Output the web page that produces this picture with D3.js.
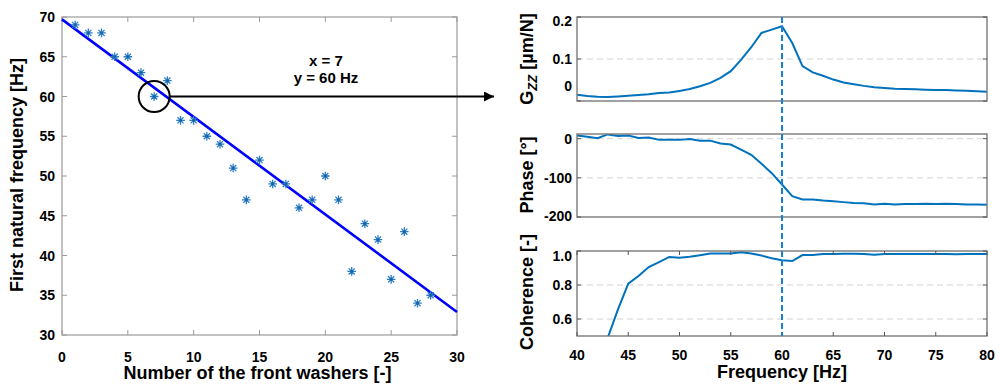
<!DOCTYPE html>
<html lang="en">
<head>
<meta charset="UTF-8">
<title>Front washers vs first natural frequency</title>
<script src="https://d3js.org/d3.v7.min.js"></script>
<style>
  body { margin: 0; background: #fff; }
  svg { display: block; font-family: Arial, "Liberation Sans", sans-serif; font-weight: bold; }
</style>
</head>
<body>
<svg id="chart" width="1000" height="385"></svg>
<script>
// left plot: measured first natural frequency per number of front washers
const washers = [1, 2, 3, 4, 5, 6, 7, 8, 9, 10, 11, 12, 13, 14, 15, 16, 17, 18, 19, 20, 21, 22, 23, 24, 25, 26, 27, 28];
const firstFreq = [69, 68, 68, 65, 65, 63, 60, 62, 57, 57, 55, 54, 51, 47, 52, 49, 49, 46, 47, 50, 47, 38, 44, 42, 37, 43, 34, 35];
const fitX = [0, 30];
const fitY = [69.7, 32.9];
const markedWasher = 7;
const markedFreq = 60;
const washerTicks = [0, 5, 10, 15, 20, 25, 30];
const freqTicksLeft = [30, 35, 40, 45, 50, 55, 60, 65, 70];

// right plots: FRF at x = 7 washers
const freqHz = [40, 41, 42, 43, 44, 45, 46, 47, 48, 49, 50, 51, 52, 53, 54, 55, 56, 57, 58, 59, 60,
  61, 62, 63, 64, 65, 66, 67, 68, 69, 70, 71, 72, 73, 74, 75, 76, 77, 78, 79, 80];
const gzz = [0.015, 0.012, 0.010, 0.0095, 0.011, 0.0125, 0.014, 0.016, 0.019, 0.020, 0.024,
  0.0285, 0.035, 0.043, 0.055, 0.071, 0.098, 0.128, 0.162, 0.170, 0.178,
  0.138, 0.083, 0.068, 0.060, 0.051, 0.044, 0.040, 0.036, 0.033, 0.031,
  0.029, 0.0285, 0.028, 0.027, 0.026, 0.026, 0.025, 0.0245, 0.023, 0.022];
const phase = [8, 5, 1, 11, 7, 8, 2, 3, -3, -3, -3,
  -1, -5, -5, -12, -15, -28, -41, -64, -88, -117,
  -147, -155, -155, -158, -160, -162, -164, -165, -168, -166,
  -168, -167, -167, -166, -167, -166, -167, -168, -168, -169];
const coherence = [null, null, null, 0.49, 0.657, 0.808, 0.853, 0.906, 0.935, 0.965, 0.961,
  0.966, 0.975, 0.985, 0.985, 0.986, 0.992, 0.985, 0.973, 0.957, 0.945,
  0.941, 0.976, 0.976, 0.982, 0.983, 0.984, 0.984, 0.983, 0.978, 0.982,
  0.982, 0.982, 0.982, 0.982, 0.982, 0.982, 0.981, 0.982, 0.983, 0.983];
const freqTicks = [40, 45, 50, 55, 60, 65, 70, 75, 80];
const peakHz = 60;

const svg = d3.select("#chart");
const blue = "#0072BD";

svg.append("defs").append("marker")
  .attr("id", "arrow").attr("viewBox", "0 0 10 10")
  .attr("refX", 10).attr("refY", 5)
  .attr("markerWidth", 10).attr("markerHeight", 10)
  .attr("markerUnits", "userSpaceOnUse")
  .attr("orient", "auto")
  .append("path").attr("d", "M0,0L10,5L0,10Z").attr("fill", "#000");

// ---------- left plot ----------
const L = { left: 62, right: 457, top: 17, bottom: 335 };
const x = d3.scaleLinear().domain([0, 30]).range([L.left, L.right]);
const y = d3.scaleLinear().domain([30, 70]).range([L.bottom, L.top]);
const gl = svg.append("g");

gl.append("rect")
  .attr("x", L.left).attr("y", L.top)
  .attr("width", L.right - L.left).attr("height", L.bottom - L.top)
  .attr("fill", "none").attr("stroke", "#9a9a9a").attr("stroke-width", 1.2);

const tk = 5;
washerTicks.forEach(t => {
  gl.append("line").attr("x1", x(t)).attr("x2", x(t)).attr("y1", L.bottom).attr("y2", L.bottom - tk).attr("stroke", "#9a9a9a");
  gl.append("line").attr("x1", x(t)).attr("x2", x(t)).attr("y1", L.top).attr("y2", L.top + tk).attr("stroke", "#9a9a9a");
  gl.append("text").attr("x", x(t)).attr("y", 362).attr("text-anchor", "middle")
    .attr("font-size", 14).text(t);
});
freqTicksLeft.forEach(t => {
  gl.append("line").attr("x1", L.left).attr("x2", L.left + tk).attr("y1", y(t)).attr("y2", y(t)).attr("stroke", "#9a9a9a");
  gl.append("line").attr("x1", L.right).attr("x2", L.right - tk).attr("y1", y(t)).attr("y2", y(t)).attr("stroke", "#9a9a9a");
  gl.append("text").attr("x", 55).attr("y", y(t)).attr("dy", "0.36em").attr("text-anchor", "end")
    .attr("font-size", 14).text(t);
});

gl.append("text").attr("x", (L.left + L.right) / 2 - 2).attr("y", 379)
  .attr("text-anchor", "middle").attr("font-size", 18).text("Number of the front washers [-]");
gl.append("text").attr("transform", "translate(23,175) rotate(-90)")
  .attr("text-anchor", "middle").attr("font-size", 18).text("First natural frequency [Hz]");

// fit line
gl.append("line")
  .attr("x1", x(fitX[0])).attr("y1", y(fitY[0]))
  .attr("x2", x(fitX[1])).attr("y2", y(fitY[1]))
  .attr("stroke", "#0000ff").attr("stroke-width", 2.6);

// star markers
const r = 4.3, a = r * 0.7071;
const starPath = `M${-r},0L${r},0M0,${-r}L0,${r}M${-a},${-a}L${a},${a}M${-a},${a}L${a},${-a}`;
washers.forEach((w, i) => {
  const s = gl.append("g").attr("transform", `translate(${x(w)},${y(firstFreq[i])})`);
  s.append("path").attr("d", starPath).attr("stroke", "#2a80c8").attr("stroke-width", 1.3).attr("fill", "none");
  s.append("circle").attr("r", 1.4).attr("fill", "#1f5f9e");
});

// marked point and arrow to the FRF plots
const cr = 15.5;
gl.append("circle").attr("cx", x(markedWasher)).attr("cy", y(markedFreq)).attr("r", cr)
  .attr("fill", "none").attr("stroke", "#000").attr("stroke-width", 2);
gl.append("line")
  .attr("x1", x(markedWasher) + cr).attr("y1", y(markedFreq))
  .attr("x2", 494).attr("y2", y(markedFreq))
  .attr("stroke", "#000").attr("stroke-width", 2).attr("marker-end", "url(#arrow)");
gl.append("text").attr("x", 326).attr("y", 66).attr("text-anchor", "middle").attr("font-size", 15)
  .text(`x = ${markedWasher}`);
gl.append("text").attr("x", 326).attr("y", 83).attr("text-anchor", "middle").attr("font-size", 15)
  .text(`y = ${markedFreq} Hz`);

// ---------- right plots ----------
const R = { left: 577, right: 987 };
const xf = d3.scaleLinear().domain([40, 80]).range([R.left, R.right]);

const panels = [
  { values: gzz, domain: [0, 0.2], top: 17, bottom: 101, ticks: [0, 0.1, 0.2], grid: [0.1],
    fmt: d => d === 0 ? "0" : d.toFixed(1), shift: { 0: -15, 0.2: 4 }, labelY: 59, xTicks: false },
  { values: phase, domain: [-200, 12], top: 134, bottom: 217, ticks: [0, -100, -200], grid: [0, -100],
    fmt: d => String(d), shift: { "-200": -1 }, labelY: 175, xTicks: false },
  { values: coherence, domain: [0.5, 1.0], top: 251, bottom: 336, ticks: [0.6, 0.8, 1.0], grid: [0.6, 0.8],
    fmt: d => d.toFixed(1), shift: { 1: 5 }, labelY: 292, xTicks: true }
];

panels.forEach((p, k) => {
  const yp = d3.scaleLinear().domain(p.domain).range([p.bottom, p.top]);
  const g = svg.append("g");
  const clipId = "clip" + k;
  svg.select("defs").append("clipPath").attr("id", clipId)
    .append("rect").attr("x", R.left).attr("y", p.top)
    .attr("width", R.right - R.left).attr("height", p.bottom - p.top);

  p.grid.forEach(t => {
    g.append("line").attr("x1", R.left).attr("x2", R.right).attr("y1", yp(t)).attr("y2", yp(t))
      .attr("stroke", "#d4d4d4").attr("stroke-width", 1).attr("stroke-dasharray", "6,4");
  });

  g.append("path")
    .datum(freqHz.map((f, i) => [f, p.values[i]]))
    .attr("clip-path", `url(#${clipId})`)
    .attr("fill", "none").attr("stroke", blue).attr("stroke-width", 2)
    .attr("d", d3.line().defined(d => d[1] !== null).x(d => xf(d[0])).y(d => yp(d[1])));

  g.append("rect")
    .attr("x", R.left).attr("y", p.top)
    .attr("width", R.right - R.left).attr("height", p.bottom - p.top)
    .attr("fill", "none").attr("stroke", "#7a7a7a").attr("stroke-width", 1.4);

  p.ticks.forEach(t => {
    g.append("line").attr("x1", R.left).attr("x2", R.left + 4).attr("y1", yp(t)).attr("y2", yp(t)).attr("stroke", "#555");
    g.append("line").attr("x1", R.right).attr("x2", R.right - 4).attr("y1", yp(t)).attr("y2", yp(t)).attr("stroke", "#555");
    g.append("text").attr("x", 572).attr("y", yp(t) + (p.shift[t] || 0)).attr("dy", "0.36em")
      .attr("text-anchor", "end").attr("font-size", 14).text(p.fmt(t));
  });

  if (p.xTicks) {
    freqTicks.forEach(t => {
      g.append("line").attr("x1", xf(t)).attr("x2", xf(t)).attr("y1", p.bottom).attr("y2", p.bottom - 4).attr("stroke", "#555");
      g.append("line").attr("x1", xf(t)).attr("x2", xf(t)).attr("y1", p.top).attr("y2", p.top + 4).attr("stroke", "#555");
      g.append("text").attr("x", xf(t)).attr("y", 360).attr("text-anchor", "middle")
        .attr("font-size", 14).text(t);
    });
  }
  p.yScale = yp;
});

// y labels of the right plots
const gzzLabel = svg.append("text").attr("transform", `translate(533,${panels[0].labelY}) rotate(-90)`)
  .attr("text-anchor", "middle").attr("font-size", 18);
gzzLabel.append("tspan").text("G");
gzzLabel.append("tspan").attr("font-size", 13).attr("font-style", "italic").attr("dy", 4).text("ZZ");
gzzLabel.append("tspan").attr("dy", -4).text(" [µm/N]");

svg.append("text").attr("transform", `translate(533,${panels[1].labelY}) rotate(-90)`)
  .attr("text-anchor", "middle").attr("font-size", 18).text("Phase [°]");
svg.append("text").attr("transform", `translate(533,${panels[2].labelY}) rotate(-90)`)
  .attr("text-anchor", "middle").attr("font-size", 18).text("Coherence [-]");

svg.append("text").attr("x", (R.left + R.right) / 2).attr("y", 378)
  .attr("text-anchor", "middle").attr("font-size", 18).text("Frequency [Hz]");

// dashed marker at the resonance frequency across all three plots
svg.append("line")
  .attr("x1", xf(peakHz)).attr("x2", xf(peakHz))
  .attr("y1", panels[0].top).attr("y2", panels[2].bottom)
  .attr("stroke", "#1a7fd0").attr("stroke-width", 2).attr("stroke-dasharray", "6,3");
</script>
</body>
</html>
